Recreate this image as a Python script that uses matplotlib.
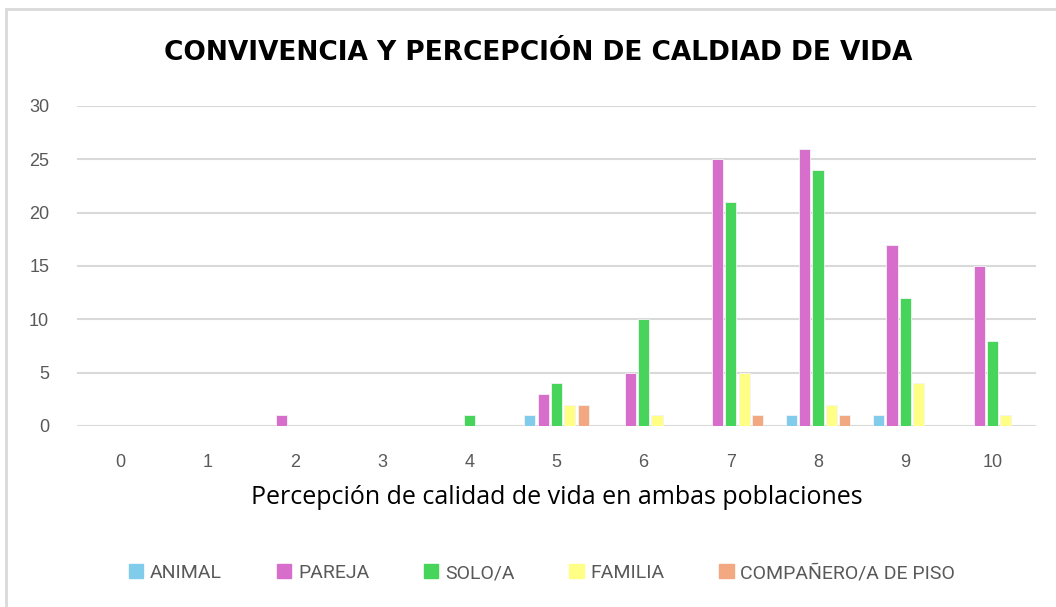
import matplotlib
matplotlib.use("Agg")
import matplotlib.pyplot as plt
from matplotlib.patches import Rectangle
import numpy as np

categories = ["0", "1", "2", "3", "4", "5", "6", "7", "8", "9", "10"]
series_names = ["ANIMAL", "PAREJA", "SOLO/A", "FAMILIA", "COMPAÑERO/A DE PISO"]
animal = [0, 0, 0, 0, 0, 1, 0, 0, 1, 1, 0]
pareja = [0, 0, 1, 0, 0, 3, 5, 25, 26, 17, 15]
solo = [0, 0, 0, 0, 1, 4, 10, 21, 24, 12, 8]
familia = [0, 0, 0, 0, 0, 2, 1, 5, 2, 4, 1]
companero = [0, 0, 0, 0, 0, 2, 0, 1, 1, 0, 0]
colors = ["#80CCEA", "#D86ECC", "#47D45A", "#FFFF85", "#F2A981"]

fig = plt.figure(figsize=(10.56, 6.07), dpi=100)
fig.patches.append(Rectangle((6 / 1056, -0.1), 1.2, 1 - 9 / 607 + 0.1,
                             transform=fig.transFigure, fill=False,
                             edgecolor="#D9D9D9", linewidth=2))
ax = fig.add_axes([77 / 1056, 1 - 426 / 607, (1036 - 77) / 1056, 320 / 607])

x = np.arange(len(categories))
slot = 0.1525
bw = 0.128
data = [animal, pareja, solo, familia, companero]
for i, (name, vals, c) in enumerate(zip(series_names, data, colors)):
    ax.bar(x + (i - 2) * slot, vals, width=bw, color=c, label=name,
           edgecolor="#F4F4F4", linewidth=0.6, zorder=3)

ax.set_xlim(-0.5, len(categories) - 0.5)
ax.set_ylim(0, 30)
ax.set_yticks([0, 5, 10, 15, 20, 25, 30])
ax.set_xticks(x)
ax.set_xticklabels(categories)
ax.grid(axis="y", color="#D9D9D9", linewidth=1.5, zorder=0)
ax.set_axisbelow(True)
for s in ax.spines.values():
    s.set_visible(False)
ax.tick_params(axis="both", length=0, colors="#595959", labelsize=13)
ax.tick_params(axis="y", pad=20)
ax.tick_params(axis="x", pad=20)
for lab in ax.get_xticklabels() + ax.get_yticklabels():
    lab.set_fontfamily("Liberation Sans")

fig.text(538 / 1056, 1 - 53 / 607, "CONVIVENCIA Y PERCEPCIÓN DE CALDIAD DE VIDA",
         ha="center", va="center", fontsize=19, fontweight="bold",
         family="DejaVu Sans", color="black")
fig.text(557 / 1056, 1 - 497 / 607, "Percepción de calidad de vida en ambas poblaciones",
         ha="center", va="center", fontsize=18, family="Open Sans", color="black")

handles = [Rectangle((0, 0), 1, 1, color=c) for c in colors]
leg = fig.legend(handles, series_names, loc="center",
                 bbox_to_anchor=(542 / 1056, 1 - 573 / 607), ncol=5,
                 frameon=False, handlelength=0.75, handleheight=0.75,
                 handletextpad=0.35, columnspacing=2.8,
                 prop={"family": "Roboto", "size": 14})
for t in leg.get_texts():
    t.set_color("#595959")

fig.savefig("out.png", dpi=100)
